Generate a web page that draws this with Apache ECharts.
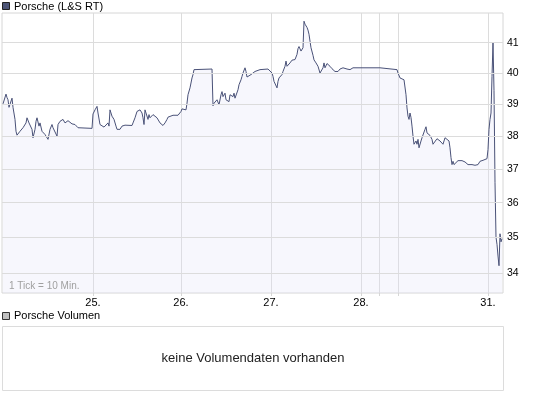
<!DOCTYPE html>
<html>
<head>
<meta charset="utf-8">
<script src="https://cdn.jsdelivr.net/npm/echarts@6/dist/echarts.min.js"></script>
<style>html,body{margin:0;padding:0;background:#fff}#c{width:545px;height:395px}</style>
</head>
<body>
<div id="c"></div>
<script>
// x positions in 10-minute ticks
const tickIndex = [1,4,5,6,7,8,10,11,13,14,15,17,18,19,20,21,23,24,25,27,28,30,31,33,34,35,37,38,40,41,43,45,46,48,50,51,53,55,56,58,60,61,63,65,66,68,70,71,73,75,76,78,90,91,93,95,96,98,99,100,102,103,104,106,107,108,110,111,112,114,115,116,118,120,121,123,130,131,133,135,136,138,140,141,142,143,144,146,147,148,150,151,153,155,156,158,160,161,163,165,166,168,171,176,178,179,180,182,184,185,186,188,190,191,192,193,210,211,212,213,215,216,217,219,220,221,223,224,225,227,228,229,231,232,233,235,236,237,239,240,241,243,244,245,247,249,250,253,255,258,266,268,270,271,272,274,275,276,277,279,280,281,283,284,285,287,288,290,292,293,295,296,297,299,300,301,302,303,305,306,307,308,309,311,312,314,316,318,319,321,322,323,325,326,328,330,331,333,335,336,338,341,345,348,351,378,379,395,396,398,400,402,404,405,406,407,408,409,410,411,412,413,414,415,416,417,419,420,421,423,424,425,427,428,430,431,433,435,436,438,440,441,443,444,445,447,448,449,450,451,452,453,456,460,463,466,468,470,473,476,478,481,485,486,487,488,489,490,491,492,493,494,495,496,497,498,499,500];
// price in EUR
const price = [39.01,39.32,39.21,39.14,38.90,38.88,39.19,38.90,38.52,38.15,38.03,38.07,38.15,38.10,38.21,38.26,38.28,38.41,38.57,38.41,38.36,38.21,37.95,38.21,38.46,38.57,38.31,38.41,38.15,38.21,38.05,38.10,37.90,38.21,38.36,38.26,38.21,38.00,38.36,38.46,38.41,38.52,38.41,38.46,38.48,38.44,38.38,38.36,38.36,38.31,38.26,38.24,38.24,38.69,38.82,38.93,38.72,38.36,38.31,38.36,38.28,38.31,38.34,38.41,38.31,38.82,38.62,38.62,38.52,38.31,38.21,38.15,38.21,38.31,38.36,38.34,38.33,38.41,38.57,38.77,38.82,38.82,38.72,38.57,38.36,38.82,38.88,38.52,38.67,38.57,38.62,38.67,38.62,38.57,38.52,38.41,38.36,38.33,38.41,38.52,38.59,38.62,38.65,38.65,38.67,38.77,38.85,38.82,38.82,39.03,39.30,39.52,39.84,39.95,40.11,40.13,40.13,38.95,39.03,39.07,39.14,39.10,38.98,39.30,39.40,39.24,39.35,39.14,39.19,39.08,39.30,39.30,39.24,39.35,39.19,39.14,39.46,39.62,39.78,39.89,40.00,40.17,40.05,39.87,39.87,39.95,40.00,40.05,40.09,40.11,40.13,40.09,40.00,39.89,39.73,39.68,39.52,39.73,39.84,39.78,39.95,40.05,40.22,40.39,40.22,40.22,40.33,40.42,40.42,40.44,40.61,40.80,40.87,40.72,40.67,40.83,41.72,41.62,41.51,41.42,41.28,41.05,40.83,40.58,40.43,40.33,40.22,40.00,40.05,40.17,40.33,40.17,40.31,40.28,40.22,40.14,40.11,40.05,40.11,40.05,40.13,40.17,40.13,40.11,40.17,40.17,40.13,40.11,40.00,39.84,39.78,39.78,39.30,38.88,38.62,38.52,38.72,38.58,38.31,38.00,37.75,37.80,37.85,37.75,37.90,37.64,37.85,37.95,38.00,38.21,38.29,38.10,38.15,38.02,37.90,37.75,37.80,37.92,37.98,37.85,37.82,37.75,37.95,37.90,37.95,37.85,37.64,37.34,37.13,37.23,37.13,37.18,37.25,37.25,37.21,37.13,37.18,37.13,37.11,37.13,37.23,37.26,37.31,37.59,38.21,38.52,38.72,39.89,41.00,39.44,36.60,35.00,34.80,34.47,34.20,35.10,34.87,34.96];
// day boundaries (ticks) and their labels
const gridTicks = [91,179,269,359,377,396,486];
const labelTicks = [91,179,269,359,486];
const labelTexts = ['25.','26.','27.','28.','31.'];
const yTicks = [34,35,36,37,38,39,40,41];

const chart = echarts.init(document.getElementById('c'), null, {renderer:'canvas'});
const FONT = 'Liberation Sans, Arial, sans-serif';
const option = {
  animation: false,
  textStyle: {fontFamily: FONT},
  grid: {left: 2, right: 42, top: 13, bottom: 102, show: true, backgroundColor: '#fff', borderColor: '#d6d6d6', borderWidth: 1},
  xAxis: {
    type: 'value', min: 0, max: 501,
    axisLine: {show: false},
    axisTick: {show: true, length: 3, customValues: gridTicks, lineStyle: {color: '#d6d6d6'}},
    axisLabel: {customValues: labelTicks, formatter: v => { const i = labelTicks.indexOf(v); return i >= 0 ? labelTexts[i] : ''; }, color: '#000', fontSize: 11, margin: 4, fontFamily: FONT},
    splitLine: {show: true, lineStyle: {color: '#dcdcdc', width: 1}}
  },
  yAxis: {
    type: 'log', logBase: 10, min: 33.45, max: 42, position: 'right',
    axisLine: {show: false}, axisTick: {show: false}, axisLabel: {show: false}, splitLine: {show: false}
  },
  series: [
    {
      type: 'line', data: [], z: 1, silent: true,
      markLine: {
        silent: true, symbol: 'none', animation: false,
        lineStyle: {color: '#dcdcdc', type: 'solid', width: 1},
        label: {position: 'end', formatter: '{c}', color: '#000', fontSize: 10.5, distance: 4, fontFamily: FONT},
        emphasis: {disabled: true},
        data: yTicks.map(v => ({yAxis: v}))
      }
    },
    {
      type: 'line', z: 3,
      data: tickIndex.map((t, i) => [t, price[i]]),
      showSymbol: false, symbol: 'none',
      lineStyle: {color: '#4a5278', width: 1},
      areaStyle: {color: 'rgba(225,225,248,0.4)', origin: 'start'}
    }
  ],
  graphic: [
    {type: 'rect', z: 100, shape: {x: 2.5, y: 2.5, width: 7, height: 7}, style: {fill: '#4d5577', stroke: '#222', lineWidth: 1}},
    {type: 'text', z: 100, x: 14, y: 6.5, style: {text: 'Porsche (L&S RT)', font: '11px ' + FONT, fill: '#000', verticalAlign: 'middle'}},
    {type: 'text', z: 100, x: 9, y: 286, style: {text: '1 Tick = 10 Min.', font: '10px ' + FONT, fill: '#a0a0a0', verticalAlign: 'middle'}},
    {type: 'rect', z: 100, shape: {x: 2.5, y: 312.5, width: 7, height: 7}, style: {fill: '#c0c0c0', stroke: '#333', lineWidth: 1}},
    {type: 'text', z: 100, x: 14, y: 316, style: {text: 'Porsche Volumen', font: '11px ' + FONT, fill: '#000', verticalAlign: 'middle'}},
    {type: 'rect', z: 90, shape: {x: 2.5, y: 326.5, width: 501, height: 64}, style: {fill: '#fff', stroke: '#dcdcdc', lineWidth: 1}},
    {type: 'text', z: 100, x: 253, y: 358, style: {text: 'keine Volumendaten vorhanden', font: '13px ' + FONT, fill: '#222', align: 'center', verticalAlign: 'middle'}}
  ]
};
chart.setOption(option);
</script>
</body>
</html>
